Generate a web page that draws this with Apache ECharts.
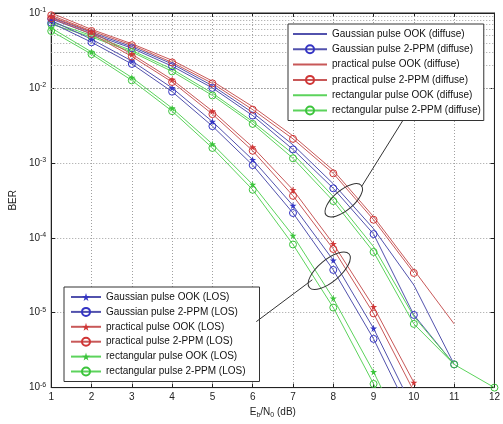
<!DOCTYPE html>
<html><head><meta charset="utf-8">
<script src="https://cdn.jsdelivr.net/npm/echarts@6/dist/echarts.min.js"></script>
<style>html,body{margin:0;padding:0;background:#fff}#c{width:503px;height:424px}</style>
</head><body><div id="c"></div>
<script>
// Eb/N0 (dB) values
const snr = [1,2,3,4,5,6,7,8,9,10,11,12];
// diffuse channel BER
const gaussOokDiffuse = [0.0871,0.055,0.0355,0.0209,0.0107,0.00468,0.00174,0.000525,0.000132,2.34e-5,2.04e-6];
const gaussPpmDiffuse = [0.0832,0.0525,0.0339,0.0195,0.01,0.00427,0.00151,0.000457,0.000112,9.33e-6,2.04e-6];
const practOokDiffuse = [0.1,0.0603,0.0389,0.0234,0.0123,0.00562,0.00229,0.000794,0.000191,3.72e-5,7.08e-6];
const practPpmDiffuse = [0.0933,0.0575,0.0372,0.0219,0.0115,0.00513,0.00209,0.000724,0.000174,3.39e-5];
const rectOokDiffuse  = [0.0759,0.0501,0.0316,0.0178,0.00851,0.00355,0.00132,0.000355,7.59e-5,8.91e-6,2.04e-6];
const rectPpmDiffuse  = [0.0708,0.0479,0.0302,0.0166,0.00794,0.00331,0.00115,0.000309,6.46e-5,7.08e-6,2.04e-6,1e-6];
// LOS channel BER
const gaussOokLos = [0.0794,0.0447,0.0229,0.01,0.00355,0.0011,0.000269,5.01e-5,6.17e-6,5.01e-7];
const gaussPpmLos = [0.0741,0.0407,0.0209,0.00891,0.00309,0.000933,0.000214,3.72e-5,4.47e-6,3.55e-7];
const practOokLos = [0.0891,0.0562,0.0282,0.0129,0.0049,0.00162,0.000437,8.32e-5,1.2e-5,1.17e-6];
const practPpmLos = [0.0851,0.0525,0.0263,0.012,0.00447,0.00145,0.000363,7.08e-5,9.77e-6,8.91e-7];
const rectOokLos  = [0.0631,0.0302,0.0138,0.00537,0.00178,0.000513,0.000107,1.55e-5,1.62e-6,1.26e-7];
const rectPpmLos  = [0.0575,0.0282,0.0126,0.0049,0.00158,0.000437,8.13e-5,1.17e-5,1.12e-6,7.94e-8];

const diffuseNames = ['Gaussian pulse OOK (diffuse)','Gaussian pulse 2-PPM (diffuse)','practical pulse OOK (diffuse)','practical pulse 2-PPM (diffuse)','rectangular pulse OOK (diffuse)','rectangular pulse 2-PPM (diffuse)'];
const losNames = ['Gaussian pulse OOK (LOS)','Gaussian pulse 2-PPM (LOS)','practical pulse OOK (LOS)','practical pulse 2-PPM (LOS)','rectangular pulse OOK (LOS)','rectangular pulse 2-PPM (LOS)'];

// annotation anchors in data coordinates: ellipse centres and leader line ends
const diffuseEllipse = [8.26, 3.16e-4];
const losEllipse = [7.9, 3.63e-5];
const diffuseLeader = [[9.73, 3.7e-3],[8.70, 4.8e-4]];
const losLeader = [[6.09, 7.6e-6],[7.48, 2.75e-5]];

const LINE = {b:'#5252ad', r:'#c85858', g:'#5cd35c'};
const MARK = {b:'#3434c4', r:'#d03636', g:'#3cc43c'};
const STAR = 'path://M50,0 L61,35 L98,35 L68,57 L79,91 L50,70 L21,91 L32,57 L2,35 L39,35Z';
const FONT = 'Liberation Sans, Arial, sans-serif';

function pairs(arr){ return arr.map((v,i)=>[snr[i], v]); }
function mk(name, arr, c, sym){
  const s = {
    name, type:'line', data: pairs(arr), clip:true, color: LINE[c],
    lineStyle:{color: LINE[c], width:1},
    emphasis:{disabled:true}, animation:false, z:3
  };
  if (sym === 'o') { s.symbol='circle'; s.symbolSize=7; s.itemStyle={color:'rgba(255,255,255,0)', borderColor:MARK[c], borderWidth:1}; }
  else if (sym === '*') { s.symbol=STAR; s.symbolSize=7; s.itemStyle={color:MARK[c], borderColor:MARK[c], borderWidth:0}; }
  else { s.symbol='circle'; s.showSymbol=false; s.symbolSize=0; s.itemStyle={color:'rgba(0,0,0,0)', borderWidth:0}; }
  return s;
}

// minor log grid positions (styling only)
const minorLines = [];
for (let e = -6; e < -1; e++) for (let m = 2; m <= 9; m++) minorLines.push({yAxis: m*Math.pow(10,e)});

const series = [
  mk(diffuseNames[0], gaussOokDiffuse, 'b', null),
  mk(diffuseNames[1], gaussPpmDiffuse, 'b', 'o'),
  mk(diffuseNames[2], practOokDiffuse, 'r', null),
  mk(diffuseNames[3], practPpmDiffuse, 'r', 'o'),
  mk(diffuseNames[4], rectOokDiffuse, 'g', null),
  mk(diffuseNames[5], rectPpmDiffuse, 'g', 'o'),
  mk(losNames[0], gaussOokLos, 'b', '*'),
  mk(losNames[1], gaussPpmLos, 'b', 'o'),
  mk(losNames[2], practOokLos, 'r', '*'),
  mk(losNames[3], practPpmLos, 'r', 'o'),
  mk(losNames[4], rectOokLos, 'g', '*'),
  mk(losNames[5], rectPpmLos, 'g', 'o'),
  { name:'_minor', type:'line', data:[], z:1, silent:true,
    markLine:{ silent:true, symbol:'none', animation:false, z:1, label:{show:false},
      lineStyle:{color:'#a0a0a0', type:[1,2], width:1}, emphasis:{disabled:true}, data: minorLines } }
];

const gridLine = {show:true, lineStyle:{color:'#a0a0a0', type:[1,2], width:1}};
const legendBase = {
  orient:'vertical', backgroundColor:'#fff', borderColor:'#333', borderWidth:1,
  itemHeight:10, selectedMode:false,
  textStyle:{fontFamily:FONT, fontSize:10, color:'#111'}
};

const chart = echarts.init(document.getElementById('c'), null, {renderer:'canvas'});
chart.setOption({
  animation:false,
  backgroundColor:'#fff',
  grid:{left:45, right:8, top:13, bottom:29, show:true, borderColor:'#222', borderWidth:1, backgroundColor:'#fff'},
  xAxis:[{
    type:'value', min:1, max:12, interval:1,
    name:'E{sub|b}/N{sub|0} (dB)', nameLocation:'middle', nameGap:15,
    nameTextStyle:{fontFamily:FONT, fontSize:10, color:'#222', rich:{sub:{fontSize:7, verticalAlign:'bottom', padding:[6,0,0,0], fontFamily:FONT, color:'#222'}}},
    axisLine:{lineStyle:{color:'#222'}}, axisTick:{inside:true, length:4, lineStyle:{color:'#222'}},
    axisLabel:{fontFamily:FONT, fontSize:10, color:'#222', margin:5},
    splitLine:gridLine
  },{
    type:'value', min:1, max:12, interval:1, position:'top',
    axisLine:{lineStyle:{color:'#222'}}, axisTick:{inside:true, length:4, lineStyle:{color:'#222'}},
    axisLabel:{show:false}, splitLine:{show:false}
  }],
  yAxis:[{
    type:'log', logBase:10, min:1e-6, max:1e-1,
    name:'BER', nameLocation:'middle', nameGap:21, nameRotate:90,
    nameTextStyle:{fontFamily:FONT, fontSize:10, color:'#222'},
    axisLine:{lineStyle:{color:'#222'}}, axisTick:{inside:true, length:4, lineStyle:{color:'#222'}},
    axisLabel:{fontFamily:FONT, fontSize:10, color:'#222', margin:5,
      formatter: v => '10{s|' + Math.round(Math.log10(v)) + '}',
      rich:{s:{fontSize:7, verticalAlign:'top', padding:[0,0,6,0], fontFamily:FONT, color:'#222'}}},
    splitLine:gridLine
  },{
    type:'log', logBase:10, min:1e-6, max:1e-1, position:'right',
    axisLine:{lineStyle:{color:'#222'}}, axisTick:{inside:true, length:4, lineStyle:{color:'#222'}},
    axisLabel:{show:false}, splitLine:{show:false}
  }],
  legend:[
    Object.assign({}, legendBase, {data:diffuseNames, left:288, top:24, itemWidth:34, itemGap:5.3, padding:[5,3,5,4]}),
    Object.assign({}, legendBase, {data:losNames, left:64, top:287, itemWidth:30, itemGap:4.9, padding:[5,14,5,6]})
  ],
  series
});

function px(p){ return chart.convertToPixel({xAxisIndex:0, yAxisIndex:0}, p); }
const e1 = px(diffuseEllipse), e2 = px(losEllipse);
const d0 = px(diffuseLeader[0]), d1 = px(diffuseLeader[1]);
const l0 = px(losLeader[0]), l1 = px(losLeader[1]);
const annStyle = {stroke:'#333', fill:null, lineWidth:1};
chart.setOption({graphic:[
  {type:'ellipse', x:e1[0], y:e1[1], rotation:0.7, shape:{cx:0, cy:0, rx:23, ry:10}, style:annStyle, z:10, silent:true},
  {type:'ellipse', x:e2[0], y:e2[1], rotation:0.7, shape:{cx:0, cy:0, rx:26, ry:11}, style:annStyle, z:10, silent:true},
  {type:'line', shape:{x1:d0[0], y1:d0[1], x2:d1[0], y2:d1[1]}, style:{stroke:'#333', lineWidth:1}, z:10, silent:true},
  {type:'line', shape:{x1:l0[0], y1:l0[1], x2:l1[0], y2:l1[1]}, style:{stroke:'#333', lineWidth:1}, z:10, silent:true}
]});
</script>
</body></html>
